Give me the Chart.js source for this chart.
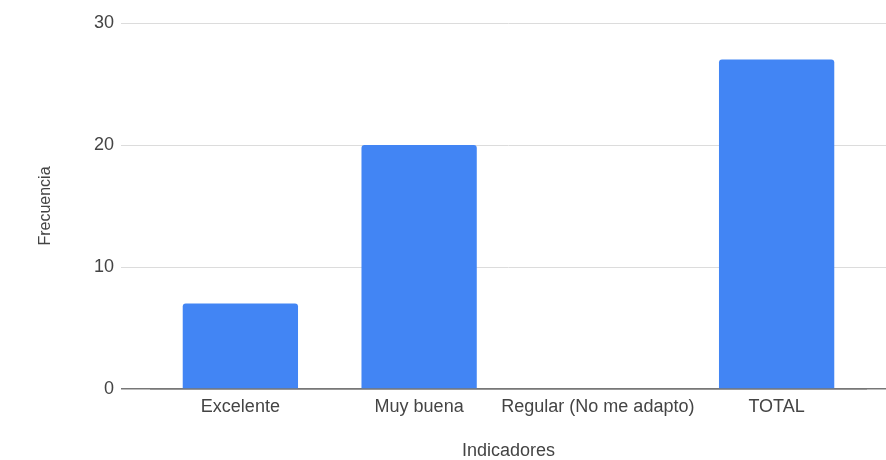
<!DOCTYPE html>
<html lang="es">
<head>
<meta charset="utf-8">
<title>Frecuencia por indicador</title>
<script src="https://cdn.jsdelivr.net/npm/chart.js@4"></script>
<style>
  html, body { margin: 0; padding: 0; background: #fff; }
  #wrap { width: 886px; height: 460px; position: relative; }
</style>
</head>
<body>
<div id="wrap"><canvas id="grafico"></canvas></div>
<script>
const indicadores = ["Excelente", "Muy buena", "Regular (No me adapto)", "TOTAL"];
const frecuencia = [7, 20, 0, 27];
const marcasY = [0, 10, 20, 30];

const azul = "#4285f4";
const texto = "#444444";
const rejilla = "#dcdcdc";
const base = "#777777";

// la línea del cero es más oscura que el resto de la rejilla
const colorLinea = (ctx) => (ctx.tick && ctx.tick.value === 0 ? base : rejilla);

const ctx = document.getElementById("grafico").getContext("2d");
new Chart(ctx, {
  type: "bar",
  data: {
    labels: indicadores,
    datasets: [
      {
        label: "Frecuencia",
        data: frecuencia,
        backgroundColor: azul,
        borderRadius: { topLeft: 3, topRight: 3 },
        borderSkipped: "bottom",
        categoryPercentage: 1,
        barPercentage: 0.645,
      },
    ],
  },
  options: {
    responsive: true,
    maintainAspectRatio: false,
    animation: false,
    layout: { padding: { top: 23, left: 0, right: 0, bottom: 0 } },
    plugins: {
      legend: { display: false },
      tooltip: { enabled: false },
    },
    scales: {
      x: {
        grid: { display: false, drawTicks: false },
        border: { display: true, color: base, width: 1.5 },
        ticks: {
          color: texto,
          padding: 7,
          autoSkip: false,
          maxRotation: 0,
          font: { family: "'Liberation Sans', Arial, sans-serif", size: 18 },
        },
        title: {
          display: true,
          text: "Indicadores",
          color: texto,
          padding: { top: 0, bottom: 0 },
          font: { family: "'Liberation Sans', Arial, sans-serif", size: 18, lineHeight: 1.0 },
        },
        afterFit: (scale) => { scale.height = 71; },
      },
      y: {
        min: marcasY[0],
        max: marcasY[marcasY.length - 1],
        afterBuildTicks: (scale) => { scale.ticks = marcasY.map((v) => ({ value: v })); },
        grid: {
          color: colorLinea,
          tickColor: colorLinea,
          drawTicks: true,
          tickLength: 30,
          lineWidth: (c) => (c.tick && c.tick.value === 0 ? 1.5 : 1),
        },
        border: { display: false },
        ticks: {
          color: texto,
          padding: 7,
          font: { family: "'Liberation Sans', Arial, sans-serif", size: 18 },
        },
        title: {
          display: true,
          text: "Frecuencia",
          color: texto,
          padding: { top: 36, bottom: 0 },
          font: { family: "'Liberation Sans', Arial, sans-serif", size: 16, lineHeight: 1.2 },
        },
        afterFit: (scale) => { scale.width = 151; },
      },
      // eje derecho sin etiquetas: solo prolonga la rejilla hasta el borde
      yDer: {
        position: "right",
        min: marcasY[0],
        max: marcasY[marcasY.length - 1],
        afterBuildTicks: (scale) => { scale.ticks = marcasY.map((v) => ({ value: v })); },
        grid: {
          drawOnChartArea: false,
          drawTicks: true,
          tickLength: 20,
          tickColor: colorLinea,
          lineWidth: (c) => (c.tick && c.tick.value === 0 ? 1.5 : 1),
        },
        border: { display: false },
        ticks: { display: false },
        afterFit: (scale) => { scale.width = 20; },
      },
    },
  },
});
</script>
</body>
</html>
